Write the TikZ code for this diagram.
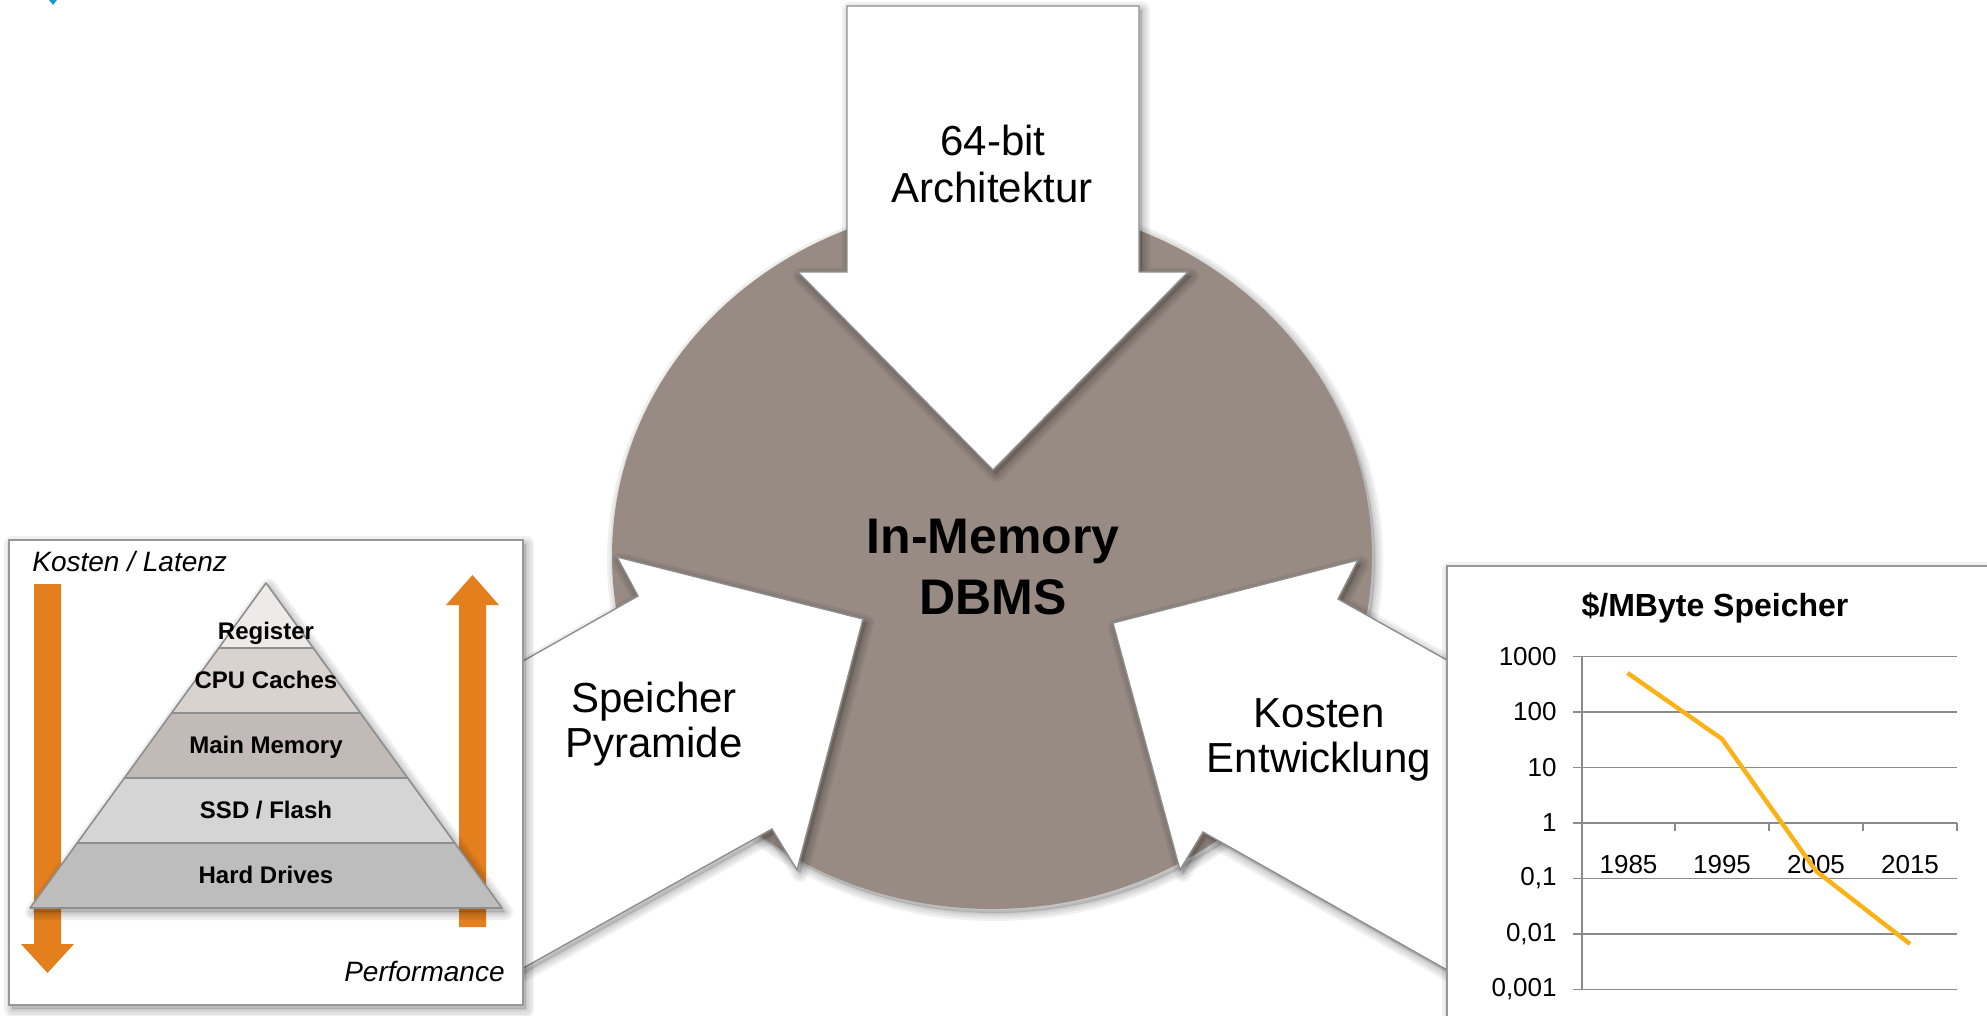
\documentclass[tikz,border=0pt]{standalone}
\usepackage{fontspec}
\setmainfont{Liberation Sans}
\usetikzlibrary{calc}

\definecolor{corebrown}{HTML}{978B83}
\definecolor{framegray}{HTML}{979797}
\definecolor{edgegray}{HTML}{8E8E8E}
\definecolor{gridgray}{HTML}{8A8A8A}
\definecolor{hotorange}{HTML}{E47F1E}
\definecolor{curveyellow}{HTML}{FBB216}
\definecolor{tierA}{HTML}{EDEAE9}
\definecolor{tierB}{HTML}{D9D3D0}
\definecolor{tierC}{HTML}{C2BAB6}
\definecolor{tierD}{HTML}{D5D5D5}
\definecolor{tierE}{HTML}{BDBDBD}
\definecolor{logoblue}{HTML}{1B96D3}

% soft drop shadow under a closed path
\newcommand\softshade[1]{%
  \begin{scope}[shift={(3,4)}]
    \foreach \w in {8,5.5,3,1}{\draw[black, opacity=0.06, line width=\w pt, line join=round] #1;}
    \fill[black, opacity=0.12] #1;
  \end{scope}}

% outlines of the big shapes (units: 1 = 0.5pt, y grows downwards)
\newcommand\coreshape{(992,556) ellipse [x radius=190pt, y radius=176.5pt]}
\newcommand\toparrowshape{(847,6) -- (1139,6) -- (1139,272) -- (1188,272) -- (993,470) -- (798,272) -- (847,272) -- cycle}
\newcommand\leftarrowshape{(500,674) -- (638,596) -- (617,557) -- (863,619) -- (797,870) -- (772,829) -- (500,981) -- cycle}
\newcommand\rightarrowshape{(1113,623) -- (1358,560) -- (1338,599) -- (1470,673) -- (1470,983) -- (1203,832) -- (1180,870) -- cycle}
\newcommand\pyrframeshape{(9,540) rectangle (523,1005)}
\newcommand\chartframeshape{(1447,566) rectangle (2010,1040)}
\newcommand\pyrshape{(266,583) -- (502,908) -- (30,908) -- cycle}

\tikzset{
  blockarrow/.style={fill=white, draw=edgegray, line width=0.7pt, line join=miter},
  frame/.style={fill=white, draw=framegray, line width=0.8pt},
  tier/.style={draw=edgegray, line width=0.8pt, line join=round},
  tierlabel/.style={anchor=base, font=\fontsize{12}{14}\selectfont\bfseries},
  sidenote/.style={font=\fontsize{14}{16}\selectfont\itshape},
  biglabel/.style={anchor=base, font=\fontsize{21}{24}\selectfont},
  corelabel/.style={anchor=base, font=\fontsize{25}{30}\selectfont\bfseries},
  ticklabel/.style={font=\fontsize{13}{15}\selectfont},
  grid line/.style={draw=gridgray, line width=0.8pt}
}

\begin{document}
\begin{tikzpicture}[x=0.5pt, y=-0.5pt]
\useasboundingbox (0,0) rectangle (1987,1016);

% small blue mark in the corner
\fill[logoblue] (49,0) -- (57,0) -- (53,5) -- cycle;

% central disc
\softshade{\coreshape}
\fill[corebrown] \coreshape;

% the three block arrows
\softshade{\toparrowshape}
\path[blockarrow] \toparrowshape;
\softshade{\leftarrowshape}
\path[blockarrow] \leftarrowshape;
\softshade{\rightarrowshape}
\path[blockarrow] \rightarrowshape;

\node[corelabel] (coreA) at (993,553) {In-Memory};
\node[corelabel] (coreB) at (993,614) {DBMS};
\node[biglabel] (archA) at (993,156) {64-bit};
\node[biglabel] (archB) at (992,203) {Architektur};
\node[biglabel] (pyrA) at (654,712) {Speicher};
\node[biglabel] (pyrB) at (654,757) {Pyramide};
\node[biglabel] (costA) at (1319,727) {Kosten};
\node[biglabel] (costB) at (1319,772) {Entwicklung};

% ---------- storage pyramid panel ----------
\softshade{\pyrframeshape}
\path[frame] \pyrframeshape;

% orange trend arrows
\fill[hotorange] (34,584) -- (61,584) -- (61,944) -- (74,944) -- (47.5,973) -- (21,944) -- (34,944) -- cycle;
\fill[hotorange] (459,927) -- (486,927) -- (486,605) -- (499,605) -- (472.5,575) -- (446,605) -- (459,605) -- cycle;

\coordinate (apex) at (266,583);
\coordinate (bl) at (30,908);
\coordinate (br) at (502,908);
\foreach \k in {1,2,3,4}{
  \coordinate (L\k) at ($(apex)!\k/5!(bl)$);
  \coordinate (R\k) at ($(apex)!\k/5!(br)$);
}
\softshade{\pyrshape}
\path[tier, fill=tierE] (L4) -- (R4) -- (br) -- (bl) -- cycle;
\path[tier, fill=tierD] (L3) -- (R3) -- (R4) -- (L4) -- cycle;
\path[tier, fill=tierC] (L2) -- (R2) -- (R3) -- (L3) -- cycle;
\path[tier, fill=tierB] (L1) -- (R1) -- (R2) -- (L2) -- cycle;
\path[tier, fill=tierA] (apex) -- (R1) -- (L1) -- cycle;

\node[tierlabel] (reg) at (266,639) {Register};
\node[tierlabel] (cache) at (266,688) {CPU Caches};
\node[tierlabel] (ram) at (266,753) {Main Memory};
\node[tierlabel] (ssd) at (266,818) {SSD / Flash};
\node[tierlabel] (hdd) at (266,883) {Hard Drives};

\node[sidenote, anchor=base west, inner sep=0pt] (latency) at (32,571) {Kosten / Latenz};
\node[sidenote, anchor=base east, inner sep=0pt] (perf) at (505,981) {Performance};

% ---------- price chart panel ----------
\softshade{\chartframeshape}
\path[frame] \chartframeshape;

\node[anchor=base, font=\fontsize{16}{19}\selectfont\bfseries] (title) at (1715,616) {\$/MByte Speicher};

\foreach \lab [count=\i from 0] in {1000,100,10,1,{0,1},{0,01},{0,001}}{
  \pgfmathsetmacro\yy{656.5+55.5*\i}
  \draw[grid line] (1573,\yy) -- (1957,\yy);
  \node[ticklabel, anchor=east, inner sep=0pt] (ylab\i) at (1557,\yy) {\lab};
}
\draw[grid line] (1582,656.5) -- (1582,989.5);
\foreach \xx in {1675,1769,1863,1957}{
  \draw[grid line] (\xx,823) -- (\xx,831);
}
\foreach \yr/\xx in {1985/1628.5,1995/1722,2005/1816,2015/1910}{
  \node[ticklabel, anchor=base] (yr\yr) at (\xx,873) {\yr};
}
\coordinate (p1985) at (1627.5,673);
\coordinate (p1995) at (1722,739);
\coordinate (p2005) at (1816,871);
\coordinate (p2015) at (1910,944);
\draw[curveyellow, line width=2.2pt, line join=round] (p1985) -- (p1995) -- (p2005) -- (p2015);

\end{tikzpicture}
\end{document}
